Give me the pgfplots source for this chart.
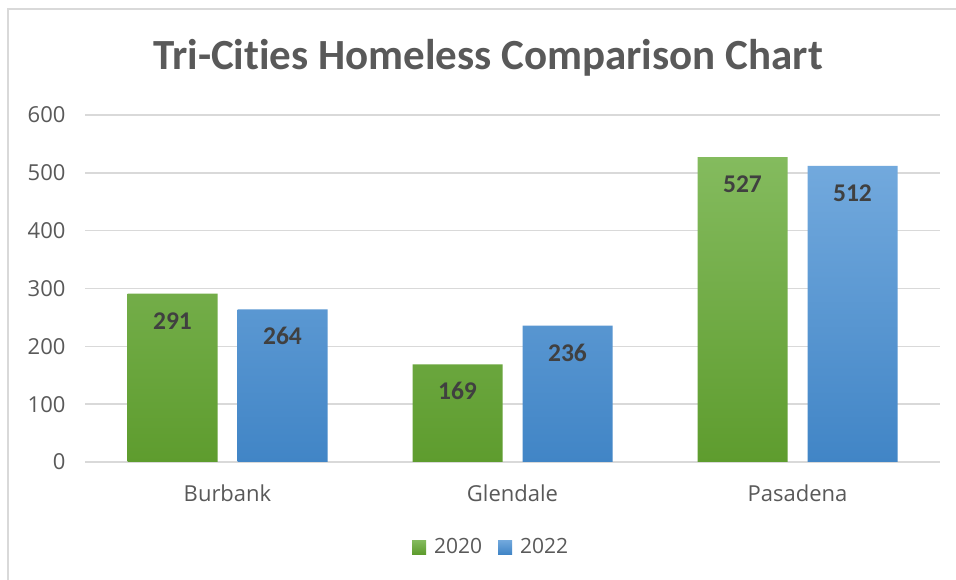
\documentclass[border=0pt]{standalone}
\usepackage{fontspec}
\setmainfont{Carlito}[Ligatures=NoCommon]
\newfontfamily\osans{Open Sans}
\usepackage{pgfplots}
\pgfplotsset{compat=1.18}
\definecolor{gridc}{HTML}{D9D9D9}
\definecolor{txt}{HTML}{595959}
\definecolor{lbl}{HTML}{404040}
\definecolor{gtop}{HTML}{84BB5E}
\definecolor{gbot}{HTML}{5E9C2E}
\definecolor{btop}{HTML}{72A9DD}
\definecolor{bbot}{HTML}{4185C6}
\begin{document}
\begin{tikzpicture}
\useasboundingbox (0,0) rectangle (956pt,580pt);
\fill[white] (0,0) rectangle (956pt,580pt);
\draw[gridc, line width=1.5pt] (8pt,0) -- (8pt,571pt) -- (956pt,571pt);
\node[font=\fontsize{43}{48}\selectfont\bfseries, text=txt] at (488pt,522pt) {Tri-Cities Homeless Comparison Chart};
\begin{axis}[
  at={(85pt,118pt)}, anchor=south west,
  scale only axis, width=855pt, height=347pt,
  ybar=20pt, bar width=90pt,
  xmin=-0.5, xmax=2.5, ymin=0, ymax=600,
  xtick={0,1,2}, xticklabels={Burbank,Glendale,Pasadena},
  ytick={0,100,...,600},
  axis line style={draw=none},
  major tick length=0pt,
  ymajorgrids, grid style={gridc, line width=1.5pt},
  /pgf/number format/assume math mode=true,
  tick label style={font=\osans\fontsize{22}{26}\selectfont, text=txt},
  yticklabel style={xshift=-16pt},
  xticklabel style={yshift=-19pt},
  nodes near coords,
  every node near coord/.append style={font=\fontsize{25.5}{30}\selectfont\bfseries, text=lbl, anchor=center, yshift=-27pt},
  legend style={at={(0.475,-0.245)}, anchor=center, draw=none, legend columns=2,
    font=\osans\fontsize{21}{26}\selectfont, text=txt,
    /tikz/every odd column/.append style={column sep=6pt},
    /tikz/every even column/.append style={column sep=14pt}},
  legend image code/.code={\fill[#1] (0pt,-7pt) rectangle (14pt,7pt);},
]
\addplot[draw=none, top color=gtop, bottom color=gbot] coordinates {(0,291) (1,169) (2,527)};
\addplot[draw=none, top color=btop, bottom color=bbot] coordinates {(0,264) (1,236) (2,512)};
\legend{2020,2022}
\end{axis}
\end{tikzpicture}
\end{document}
